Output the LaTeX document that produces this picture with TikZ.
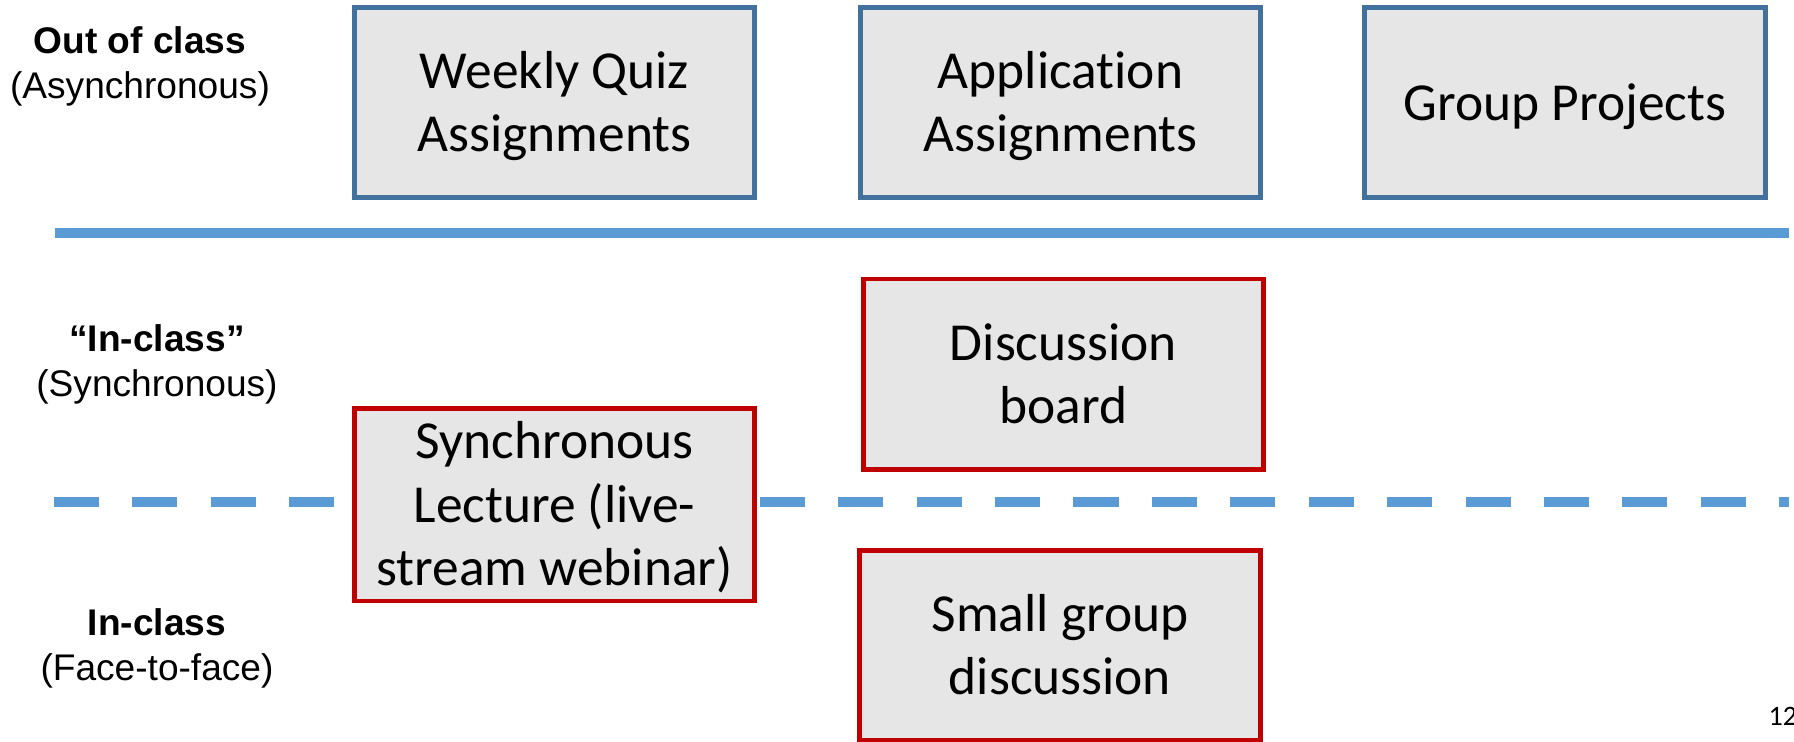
\documentclass[tikz,border=0pt]{standalone}
\usepackage{fontspec}
\setmainfont{Carlito}[Ligatures=NoCommon]
\newfontfamily\arialfont{Liberation Sans}
\usepackage{tikz}
\usetikzlibrary{positioning}
\usepackage{xcolor}
\definecolor{boxblue}{RGB}{65,113,156}
\definecolor{boxred}{RGB}{192,0,0}
\definecolor{lineblue}{RGB}{91,155,213}
\definecolor{boxgray}{RGB}{230,230,230}
% struts so that the text sits in the box as on the slide
\newcommand{\slidetext}[1]{\rule{0pt}{0.95em}#1\rule[-0.29em]{0pt}{0.29em}}

\begin{document}
\begin{tikzpicture}[x=0.01cm,y=-0.01cm]
  \tikzstyle{act}=[rectangle,line width=1.4pt,fill=boxgray,minimum width=4cm,minimum height=1.9cm,inner sep=0pt,align=center,font=\fontsize{15.2}{18}\selectfont]
  \tikzstyle{async}=[act,draw=boxblue]
  \tikzstyle{sync}=[act,draw=boxred]
  \tikzstyle{mode}=[align=center,inner sep=0pt,font=\arialfont\fontsize{10.55}{12.8}\selectfont]
  \tikzstyle{divider}=[lineblue,line width=3.1pt]
  \useasboundingbox (0,0) rectangle (1794,741);
  % row labels
  \node(out-lbl) at (140,66)[mode]{\textbf{Out of class}\\(Asynchronous)};
  \node(live-lbl) at (157,364)[mode]{\textbf{\char"201CIn-class\char"201D}\\(Synchronous)};
  \node(face-lbl) at (157,648)[mode]{\textbf{In-class}\\(Face-to-face)};
  % dividers
  \coordinate(solid-l) at (55,233);
  \coordinate(solid-r) at (1789,233);
  \coordinate(dash-l) at (54,502);
  \coordinate(dash-r) at (1789,502);
  \draw[divider](solid-l)--(solid-r);
  \draw[divider,dash pattern=on 12.8pt off 9.5pt](dash-l)--(dash-r);
  % out of class
  \node(quiz) at (554.5,102.5)[async]{\slidetext{Weekly Quiz\\Assignments}};
  \node(apply) at (1060.5,102.5)[async]{\slidetext{Application\\Assignments}};
  \node(projects) at (1565,102.5)[async]{\slidetext{Group Projects}};
  % synchronous / face-to-face
  \node(lecture) at (554.5,504.5)[sync]{\slidetext{Synchronous\\Lecture (live-\\stream webinar)}};
  \node(board) at (1063.5,374)[sync]{\slidetext{Discussion\\board}};
  \node(small) at (1060,645.5)[sync]{\slidetext{Small group\\discussion}};
  \node(page) at (1768,725)[anchor=base west,inner sep=0pt,font=\fontsize{8}{10}\selectfont]{12};
\end{tikzpicture}
\end{document}
